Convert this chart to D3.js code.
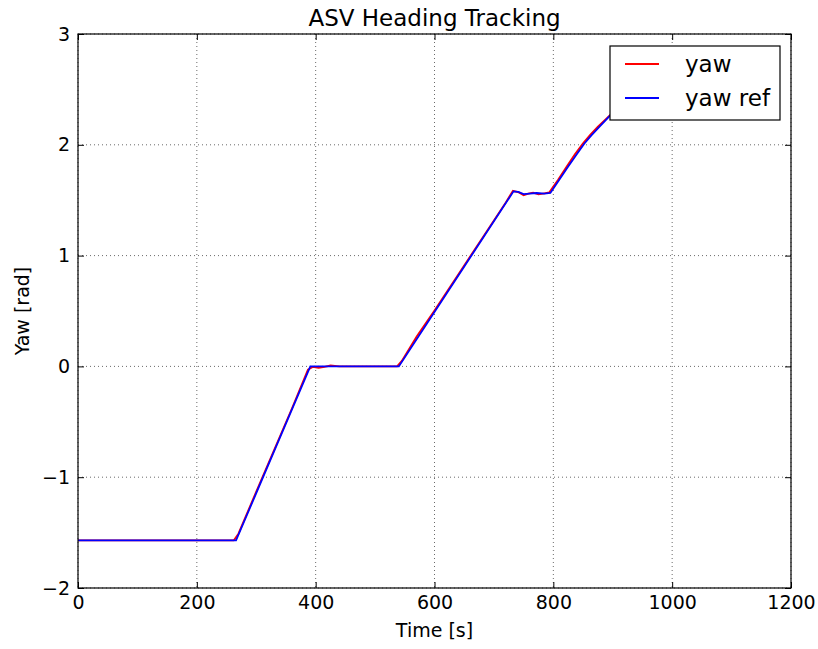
<!DOCTYPE html>
<html lang="en">
<head>
	<meta charset="utf-8">
	<title>ASV Heading Tracking</title>
	<script src="https://d3js.org/d3.v7.min.js"></script>
	<style type="text/css">
	body {
		margin: 0;
		background: white;
	}
	text {
		font-family: "DejaVu Sans", sans-serif;
		fill: black;
	}
	.axis text {
		font-size: 19px;
	}
	.axis line {
		stroke: black;
		stroke-width: 1;
	}
	.grid line {
		stroke: #444;
		stroke-width: 0.8;
		stroke-dasharray: 1,3;
	}
	</style>
</head>
<body>
<div id="area1"></div>

<script type="text/javascript">
// data
var xTicks = [0, 200, 400, 600, 800, 1000, 1200];
var yTicks = [-2, -1, 0, 1, 2, 3];

// yaw (measured)
var timeYaw = [0, 262, 270, 300, 330, 360, 387, 395, 405, 415, 425, 440, 537, 545, 570, 600, 640, 680, 720, 732, 742, 750, 758, 766, 775, 785, 793, 808, 822, 836, 850, 862, 875, 895, 960];
var yaw     = [-1.5708, -1.5708, -1.51, -1.13, -0.755, -0.38, -0.03, -0.005, -0.012, -0.004, 0.008, 0.0, 0.0, 0.05, 0.27, 0.505, 0.83, 1.155, 1.48, 1.585, 1.57, 1.545, 1.56, 1.568, 1.553, 1.562, 1.57, 1.685, 1.8, 1.912, 2.013, 2.09, 2.165, 2.265, 2.6];

// yaw ref
var timeRef = [0, 266, 391, 540, 733, 741, 750, 760, 772, 785, 795, 810, 825, 840, 852, 864, 877, 895, 960];
var yawRef  = [-1.5708, -1.5708, 0, 0, 1.58, 1.575, 1.555, 1.56, 1.565, 1.56, 1.565, 1.685, 1.805, 1.92, 2.01, 2.085, 2.16, 2.26, 2.6];

var seriesNames = ["yaw", "yaw ref"];
var seriesColors = ["#ff0000", "#0000ff"];

var w = 818; var h = 649;
var margin = {top: 34, right: 27, bottom: 61, left: 78},
    width = w - margin.left - margin.right,
    height = h - margin.top - margin.bottom;

var xScale = d3.scaleLinear().domain([0, 1200]).range([0, width]);
var yScale = d3.scaleLinear().domain([-2, 3]).range([height, 0]);

var svg = d3.select("#area1").append("svg")
    .attr("width", w)
    .attr("height", h)
    .append("g")
    .attr("transform", "translate(" + margin.left + "," + margin.top + ")");

// grid
svg.append("g").attr("class", "grid")
    .selectAll("line.gx").data(xTicks).enter().append("line")
    .attr("x1", function(d){ return xScale(d); })
    .attr("x2", function(d){ return xScale(d); })
    .attr("y1", 0).attr("y2", height);
svg.append("g").attr("class", "grid")
    .selectAll("line.gy").data(yTicks).enter().append("line")
    .attr("y1", function(d){ return yScale(d); })
    .attr("y2", function(d){ return yScale(d); })
    .attr("x1", 0).attr("x2", width);

// lines
var line = d3.line()
    .x(function(d){ return xScale(d[0]); })
    .y(function(d){ return yScale(d[1]); });

var yawData = timeYaw.map(function(t, i){ return [t, yaw[i]]; });
var refData = timeRef.map(function(t, i){ return [t, yawRef[i]]; });

svg.append("path")
    .datum(yawData)
    .attr("d", line)
    .attr("fill", "none")
    .attr("stroke", seriesColors[0])
    .attr("stroke-width", 1.8);

svg.append("path")
    .datum(refData)
    .attr("d", line)
    .attr("fill", "none")
    .attr("stroke", seriesColors[1])
    .attr("stroke-width", 1.8);

// axes, ticks point inward
var fmt = d3.format("d");
svg.append("g")
    .attr("class", "x axis")
    .attr("transform", "translate(0," + height + ")")
    .call(d3.axisBottom(xScale).tickValues(xTicks).tickSize(-6).tickPadding(8).tickFormat(fmt))
    .call(function(g){ g.select(".domain").remove(); });
svg.append("g")
    .attr("class", "y axis")
    .call(d3.axisLeft(yScale).tickValues(yTicks).tickSize(-6).tickPadding(8).tickFormat(fmt))
    .call(function(g){ g.select(".domain").remove(); });
svg.append("g")
    .attr("class", "axis")
    .call(d3.axisTop(xScale).tickValues(xTicks).tickSize(-6).tickFormat(""))
    .call(function(g){ g.select(".domain").remove(); });
svg.append("g")
    .attr("class", "axis")
    .attr("transform", "translate(" + width + ",0)")
    .call(d3.axisRight(yScale).tickValues(yTicks).tickSize(-6).tickFormat(""))
    .call(function(g){ g.select(".domain").remove(); });

// frame
svg.append("rect")
    .attr("width", width)
    .attr("height", height)
    .attr("fill", "none")
    .attr("stroke", "black")
    .attr("stroke-width", 1.2);

// title and labels
svg.append("text")
    .attr("x", width / 2)
    .attr("y", -8)
    .attr("text-anchor", "middle")
    .style("font-size", "23px")
    .text("ASV Heading Tracking");

svg.append("text")
    .attr("x", width / 2)
    .attr("y", height + 49)
    .attr("text-anchor", "middle")
    .style("font-size", "19px")
    .text("Time [s]");

svg.append("text")
    .attr("transform", "rotate(-90)")
    .attr("x", -height / 2)
    .attr("y", -49)
    .attr("text-anchor", "middle")
    .style("font-size", "19px")
    .text("Yaw [rad]");

// legend
var legend = svg.append("g")
    .attr("class", "legend")
    .attr("transform", "translate(" + (610 - margin.left) + "," + (46 - margin.top) + ")");

legend.append("rect")
    .attr("width", 170)
    .attr("height", 74)
    .attr("fill", "white")
    .attr("stroke", "black")
    .attr("stroke-width", 1.2);

var legendRow = legend.selectAll("g.row")
    .data(seriesNames)
    .enter().append("g")
    .attr("class", "row")
    .attr("transform", function(d, i){ return "translate(0," + (18 + i * 34) + ")"; });

legendRow.append("line")
    .attr("x1", 15).attr("x2", 49)
    .attr("y1", 0).attr("y2", 0)
    .attr("stroke", function(d, i){ return seriesColors[i]; })
    .attr("stroke-width", 1.8);

legendRow.append("text")
    .attr("x", 75)
    .attr("y", 8)
    .style("font-size", "23px")
    .text(function(d){ return d; });

</script>
</body>
</html>
